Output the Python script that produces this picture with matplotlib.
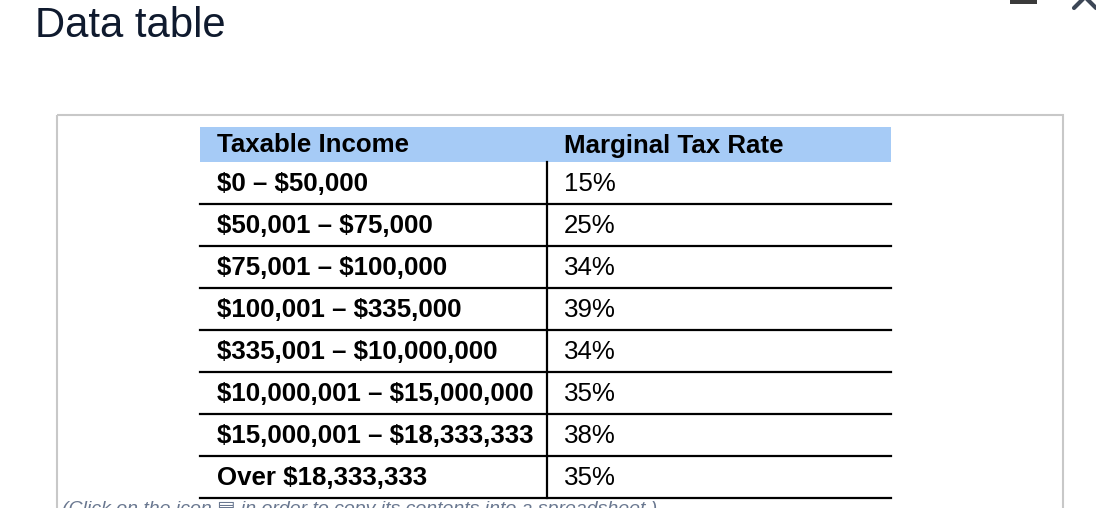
import matplotlib.pyplot as plt
from matplotlib.patches import Rectangle

# table content
headers = ["Taxable Income", "Marginal Tax Rate"]
income_brackets = [
    "$0 \u2013 $50,000",
    "$50,001 \u2013 $75,000",
    "$75,001 \u2013 $100,000",
    "$100,001 \u2013 $335,000",
    "$335,001 \u2013 $10,000,000",
    "$10,000,001 \u2013 $15,000,000",
    "$15,000,001 \u2013 $18,333,333",
    "Over $18,333,333",
]
tax_rates = ["15%", "25%", "34%", "39%", "34%", "35%", "38%", "35%"]

plt.rcParams['font.family'] = ['Liberation Sans', 'DejaVu Sans']

W, H = 1096, 508
fig = plt.figure(figsize=(W / 100, H / 100), dpi=100)
ax = fig.add_axes([0, 0, 1, 1])
ax.set_xlim(0, W)
ax.set_ylim(H, 0)
ax.axis('off')

# title
ax.text(35, 26, "Data table", fontsize=30.2, color='#0f1a2e', va='center', ha='left')

# window icons (top right)
ax.add_patch(Rectangle((1010, -4), 27, 8, color='#3a3a3a', lw=0))
ax.plot([1074, 1090], [8, -8], color='#3c4656', lw=3, solid_capstyle='round')
ax.plot([1080, 1096], [-8, 8], color='#3c4656', lw=3, solid_capstyle='round')

# outer frame
ax.add_patch(Rectangle((57, 115), 1006, 420, fill=False, ec='#c8c8c8', lw=1.5))

# table geometry
left, right, divider = 200, 891, 547
head_top, head_bot = 127, 162
row_h = 42
fs = 18.6

ax.add_patch(Rectangle((left, head_top), right - left, head_bot - head_top,
                       color='#a6cbf6', lw=0))
ax.text(217, (head_top + head_bot) / 2 + 1, headers[0], fontsize=fs,
        fontweight='bold', va='center', ha='left', color='black')
ax.text(564, (head_top + head_bot) / 2 + 1, headers[1], fontsize=fs,
        fontweight='bold', va='center', ha='left', color='black')

for i, (inc, rate) in enumerate(zip(income_brackets, tax_rates)):
    top = head_bot + i * row_h
    yc = top + row_h / 2 + 1
    ax.text(217, yc, inc, fontsize=fs, fontweight='bold', va='center',
            ha='left', color='black', parse_math=False)
    ax.text(564, yc, rate, fontsize=fs, va='center', ha='left', color='black')
    ax.plot([left, right], [top + row_h, top + row_h], color='black', lw=1.6)

n = len(income_brackets)
ax.plot([divider, divider], [head_bot, head_bot + n * row_h], color='black', lw=1.6)

# footnote, partially cut off at the bottom (as in the original)
ax.text(62, 501, "(Click on the icon \u25a4 in order to copy its contents into a spreadsheet.)",
        fontsize=14, style='italic', color='#6a7890', va='top', ha='left')

fig.savefig('out.png', dpi=100)
